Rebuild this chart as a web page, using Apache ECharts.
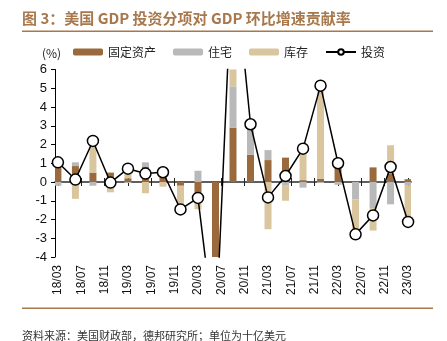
<!DOCTYPE html>
<html><head><meta charset="utf-8">
<script src="https://cdn.jsdelivr.net/npm/echarts@6/dist/echarts.min.js"></script>
<style>html,body{margin:0;padding:0;background:#fff}#c{width:447px;height:341px}</style>
</head><body><div id="c"></div>
<script>
const quarters = ['18/03','18/06','18/09','18/12','19/03','19/06','19/09','19/12','20/03','20/06','20/09','20/12','21/03','21/06','21/09','21/12','22/03','22/06','22/09','22/12','23/03'];
const tickLabels = ['18/03','18/07','18/11','19/03','19/07','19/11','20/03','20/07','20/11','21/03','21/07','21/11','22/03','22/07','22/11','23/03'];
const fixedAssets = [0.95,0.85,0.5,0.5,0.2,0.8,0.55,-0.2,-1.05,-5.5,2.9,1.45,1.17,1.3,0.1,0.18,0.85,0.03,0.78,0.46,0.15];
const residential = [-0.2,0.2,-0.2,-0.05,-0.05,0.25,0.2,0,0.6,-1.2,2.2,1.4,0.53,-0.2,-0.3,-0.05,-0.15,-0.92,-1.4,-1.19,-0.2];
const inventory = [0.1,-0.9,1.85,-0.5,0.55,-0.6,-0.25,-1.25,-0.4,-1.8,7.4,0.2,-2.52,-0.8,1.95,4.95,0.3,-1.9,-1.19,1.5,-1.8];
const investment = [1.05,0.13,2.19,-0.03,0.71,0.45,0.52,-1.46,-0.85,-8.5,12.5,3.08,-0.82,0.32,1.78,5.14,1.0,-2.79,-1.78,0.8,-2.13];

const months = [];
for (let y = 18; y <= 23; y++) {
  for (let m = 1; m <= 12; m++) {
    if ((y === 18 && m < 3) || (y === 23 && m > 3)) continue;
    months.push(y + '/' + String(m).padStart(2, '0'));
  }
}
function toMonthly(arr) {
  const out = months.map(() => null);
  quarters.forEach((q, i) => { out[months.indexOf(q)] = arr[i]; });
  return out;
}
const showTick = (idx, val) => tickLabels.indexOf(val) >= 0;
const CJK = '"Noto Sans CJK SC", sans-serif';
const NUM = '"Liberation Sans", Arial, sans-serif';
const brown = '#9a6a3c', gray = '#b9b9b9', tan = '#d9c69e', titleColor = '#a8784c';

const zeroAxis = (pos, yIdx) => ({
  type: 'category', data: months, position: pos, boundaryGap: true,
  axisLine: {show: true, onZero: true, onZeroAxisIndex: yIdx, lineStyle: {color: '#555', width: 1.5}},
  axisTick: {show: true, interval: showTick, alignWithLabel: true, inside: false, length: 4, lineStyle: {color: '#222', width: 1}},
  axisLabel: {show: false},
  splitLine: {show: false}
});

const chart = echarts.init(document.getElementById('c'), null, {renderer: 'canvas'});
chart.setOption({
  animation: false,
  backgroundColor: '#fff',
  grid: {left: 55, right: 36, top: 69.5, bottom: 84, containLabel: false, outerBoundsMode: 'none'},
  legend: {
    left: 73, top: 46, padding: 0, itemWidth: 30, itemHeight: 7, itemGap: 17,
    textStyle: {fontSize: 12, color: '#222', fontFamily: CJK},
    data: ['固定资产', '住宅', '库存', '投资']
  },
  xAxis: [
    {
      type: 'category', data: months, position: 'bottom', boundaryGap: true,
      axisLine: {show: false, onZero: false},
      axisTick: {show: false},
      axisLabel: {show: true, interval: showTick, rotate: 90, margin: 8, fontSize: 12, color: '#111', fontFamily: NUM},
      splitLine: {show: false}
    },
    zeroAxis('bottom', 0),
    zeroAxis('top', 1)
  ],
  yAxis: [
    {
      type: 'value', min: -4, max: 6, interval: 1, position: 'left',
      axisLine: {show: true, onZero: false, lineStyle: {color: '#000', width: 1}},
      axisTick: {show: true, length: 4, lineStyle: {color: '#000'}},
      axisLabel: {fontSize: 13, color: '#111', margin: 8, fontFamily: NUM},
      splitLine: {show: false}
    },
    {
      type: 'value', min: -4, max: 6, interval: 1, position: 'right', show: false,
      splitLine: {show: false}
    }
  ],
  series: [
    {name: '固定资产', type: 'bar', stack: 'a', barWidth: 7, data: toMonthly(fixedAssets), itemStyle: {color: brown}, clip: true},
    {name: '住宅', type: 'bar', stack: 'a', barWidth: 7, data: toMonthly(residential), itemStyle: {color: gray}, clip: true},
    {name: '库存', type: 'bar', stack: 'a', barWidth: 7, data: toMonthly(inventory), itemStyle: {color: tan}, clip: true},
    {name: '投资', type: 'line', data: toMonthly(investment), connectNulls: true, clip: true, z: 5,
      symbol: 'circle', symbolSize: 11, showSymbol: true, showAllSymbol: true,
      lineStyle: {color: '#000', width: 1.5},
      itemStyle: {color: '#fff', borderColor: '#000', borderWidth: 1.5}}
  ],
  graphic: [
    {type: 'text', left: 22, top: 11, style: {text: '图 3：美国 GDP 投资分项对 GDP 环比增速贡献率', fill: titleColor, font: 'bold 15px "Noto Sans CJK SC", sans-serif'}},
    {type: 'rect', shape: {x: 22, y: 30.5, width: 411, height: 1.5}, style: {fill: titleColor}},
    {type: 'text', x: 42, y: 53, style: {text: '(%)', fill: '#222', font: '12px "Noto Sans CJK SC", sans-serif', verticalAlign: 'middle'}},
    {type: 'rect', shape: {x: 22, y: 307.5, width: 411, height: 1.5}, style: {fill: titleColor}},
    {type: 'text', left: 22, top: 330, style: {text: '资料来源：美国财政部，德邦研究所；单位为十亿美元', fill: '#333', font: '11px "Noto Sans CJK SC", sans-serif'}}
  ]
});
</script></body></html>
